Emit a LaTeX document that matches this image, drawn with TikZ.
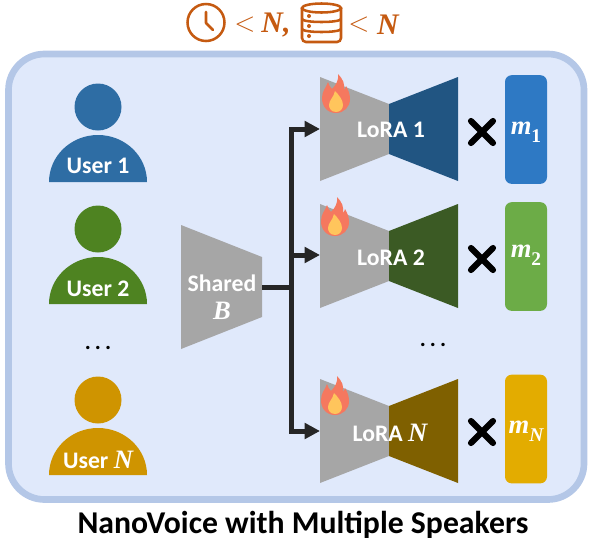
\documentclass[tikz,border=0pt]{standalone}
\usepackage{fontspec}
\setmainfont{Carlito}
\newfontfamily\varfont[Scale=1.12]{Liberation Serif}
\usetikzlibrary{calc, arrows.meta}

\definecolor{panelfill}{HTML}{E0E9FB}
\definecolor{panelline}{HTML}{B4C7E7}
\definecolor{encgray}{HTML}{A6A6A6}
\definecolor{busblack}{HTML}{262626}
\definecolor{toporange}{HTML}{C55A11}
\definecolor{userblue}{HTML}{2E6DA4}
\definecolor{usergreen}{HTML}{4E8321}
\definecolor{usergold}{HTML}{CF9400}
\definecolor{decblue}{HTML}{215582}
\definecolor{decgreen}{HTML}{3B5A24}
\definecolor{decgold}{HTML}{7F6000}
\definecolor{maskblue}{HTML}{2E79C4}
\definecolor{maskgreen}{HTML}{6CAC47}
\definecolor{maskgold}{HTML}{E3AC00}
\definecolor{flameout}{HTML}{F5785F}
\definecolor{flamein}{HTML}{FFC55C}

\tikzset{
  txt/.style={text=white, font=\fontsize{17.8}{19}\bfseries, inner sep=0pt, align=center},
  bus/.style={draw=busblack, line width=3.75pt},
  arrowbus/.style={bus, -{Triangle[length=11.5pt,width=11.5pt]}},
  times/.style={line width=4.6pt, line cap=round},
  topicon/.style={draw=toporange, line width=1.9pt},
  toptxt/.style={text=toporange, font=\fontsize{20}{22}\selectfont, inner sep=0pt},
  mask/.style={rounded corners=5pt, minimum width=31.5pt, minimum height=81.5pt, inner sep=0pt},
  dotted3/.style={inner sep=0pt, font=\fontsize{17}{18}\selectfont},
}

\newcommand{\ivar}[1]{{\varfont\bfseries\itshape #1}}
\newcommand{\isub}[1]{\raisebox{-0.3em}{\fontsize{13}{14}\selectfont #1}}
% person with a head and half round body, #1 = head y, #2 = colour
\newcommand{\person}[2]{
  \fill[#2] (98,#1) circle[radius=23.5];
  \fill[#2] (49,#1+75) arc[start angle=180, end angle=360, x radius=49, y radius=47] -- cycle;
}
% encoder and decoder, #1 = top y, #2 = colour
\newcommand{\lorablock}[2]{
  \fill[encgray] (320,#1) -- (389,#1+27) -- (389,#1+77) -- (320,#1+104) -- cycle;
  \fill[#2] (458,#1) -- (389,#1+27) -- (389,#1+77) -- (458,#1+104) -- cycle;
}
% #1 = shift of the flame
\newcommand{\flame}[1]{
  \begin{scope}[shift={#1}]
    \fill[flameout] (0,19) .. controls (-9,19) and (-14,12) .. (-14,4)
      .. controls (-14,-3) and (-10,-6) .. (-8,-12) .. controls (-7,-9) and (-6,-7) .. (-4,-5)
      .. controls (0,-9) and (3,-14) .. (2,-20) .. controls (7,-15) and (9,-10) .. (8,-4)
      .. controls (9,-5) and (10,-7) .. (10,-8) .. controls (13,-3) and (14,1) .. (14,5)
      .. controls (14,13) and (8,19) .. (0,19) -- cycle;
    \fill[flamein] (0,18) .. controls (-5,18) and (-7,14) .. (-7,11)
      .. controls (-7,6) and (-2,3) .. (-1,-3) .. controls (3,1) and (7,6) .. (7,11)
      .. controls (7,15) and (4,18) .. (0,18) -- cycle;
  \end{scope}
}

\begin{document}
\begin{tikzpicture}[x=0.75pt, y=-0.75pt]
  \useasboundingbox (0,0) rectangle (590,547);

  % panel
  \draw[panelline, fill=panelfill, line width=5pt, rounded corners=27pt] (8.5,54) rectangle (584,499.5);

  % users
  \person{107}{userblue}
  \person{229}{usergreen}
  \person{400}{usergold}
  \node[txt] (user1) at (98,166) {User 1};
  \node[txt] (user2) at (98,289) {User 2};
  \node[txt] (usern) at (98,460) {User \ivar{N}};
  \node[dotted3] (dotsleft) at (98,348) {\textbf{.\hspace{3pt}.\hspace{3pt}.}};

  % shared encoder
  \fill[encgray] (181,225) -- (262,257) -- (262,317) -- (181,349) -- cycle;
  \node[txt] (shared) at (222,283) {Shared};
  \node[txt] (sharedb) at (222,311) {\ivar{B}};

  % blocks
  \lorablock{77}{decblue}
  \lorablock{204}{decgreen}
  \lorablock{379}{decgold}
  \flame{(336,94)}
  \flame{(335,217)}
  \flame{(335,396)}
  \node[txt] (lora1) at (391,130) {LoRA 1};
  \node[txt] (lora2) at (391,258) {LoRA 2};
  \node[txt] (loran) at (390,433) {LoRA \ivar{N}};
  \node[dotted3] (dotsright) at (433,345) {\textbf{.\hspace{3pt}.\hspace{3pt}.}};

  % connectors
  \coordinate (sharedout) at (262,287);
  \coordinate (busmid) at (291,287);
  \coordinate (lora1in) at (320,129);
  \coordinate (lora2in) at (320,255);
  \coordinate (lorannin) at (320,431);
  \draw[bus] (sharedout) -- (busmid);
  \draw[arrowbus] (busmid) |- (lora1in);
  \draw[arrowbus] (busmid) |- (lora2in);
  \draw[arrowbus] (busmid) |- (lorannin);

  % crosses
  \draw[times] (471,121) -- (493,143) (493,121) -- (471,143);
  \draw[times] (471,248) -- (493,270) (493,248) -- (471,270);
  \draw[times] (471,421) -- (493,443) (493,421) -- (471,443);

  % masks
  \node[mask, fill=maskblue] (mask1) at (526,129.5) {};
  \node[mask, fill=maskgreen] (mask2) at (526,256.5) {};
  \node[mask, fill=maskgold] (maskn) at (526,429) {};
  \node[txt] (m1) at (526,132) {\ivar{m\isub{\upshape 1}}};
  \node[txt] (m2) at (526,255) {\ivar{m\isub{\upshape 2}}};
  \node[txt] (mn) at (526,431) {\ivar{m\isub{N}}};

  % top line
  \draw[topicon] (206,22.5) circle[radius=18.5];
  \draw[topicon, line cap=round, line join=round] (206,12) -- (206,23) -- (213,30);
  \node[toptxt] (lt1) at (245,25) {$<$};
  \node[toptxt] (n1) at (276,25) {\ivar{N,}};
  \draw[topicon, rounded corners=3pt] (302,8) -- (302,42) -- (341,42) -- (341,8);
  \draw[topicon] (321.5,8) ellipse[x radius=19.5, y radius=4.5];
  \draw[topicon] (302,19) arc[start angle=180, end angle=0, x radius=19.5, y radius=3];
  \draw[topicon] (302,29) arc[start angle=180, end angle=0, x radius=19.5, y radius=3];
  \fill[toporange] (309,16) circle[radius=2] (309,26) circle[radius=2] (309,36) circle[radius=2];
  \node[toptxt] (lt2) at (359,25) {$<$};
  \node[toptxt] (n2) at (388,25) {\ivar{N}};

  % title
  \node[inner sep=0pt, font=\fontsize{23.8}{26}\bfseries] (title) at (303,525) {NanoVoice with Multiple Speakers};
\end{tikzpicture}
\end{document}
